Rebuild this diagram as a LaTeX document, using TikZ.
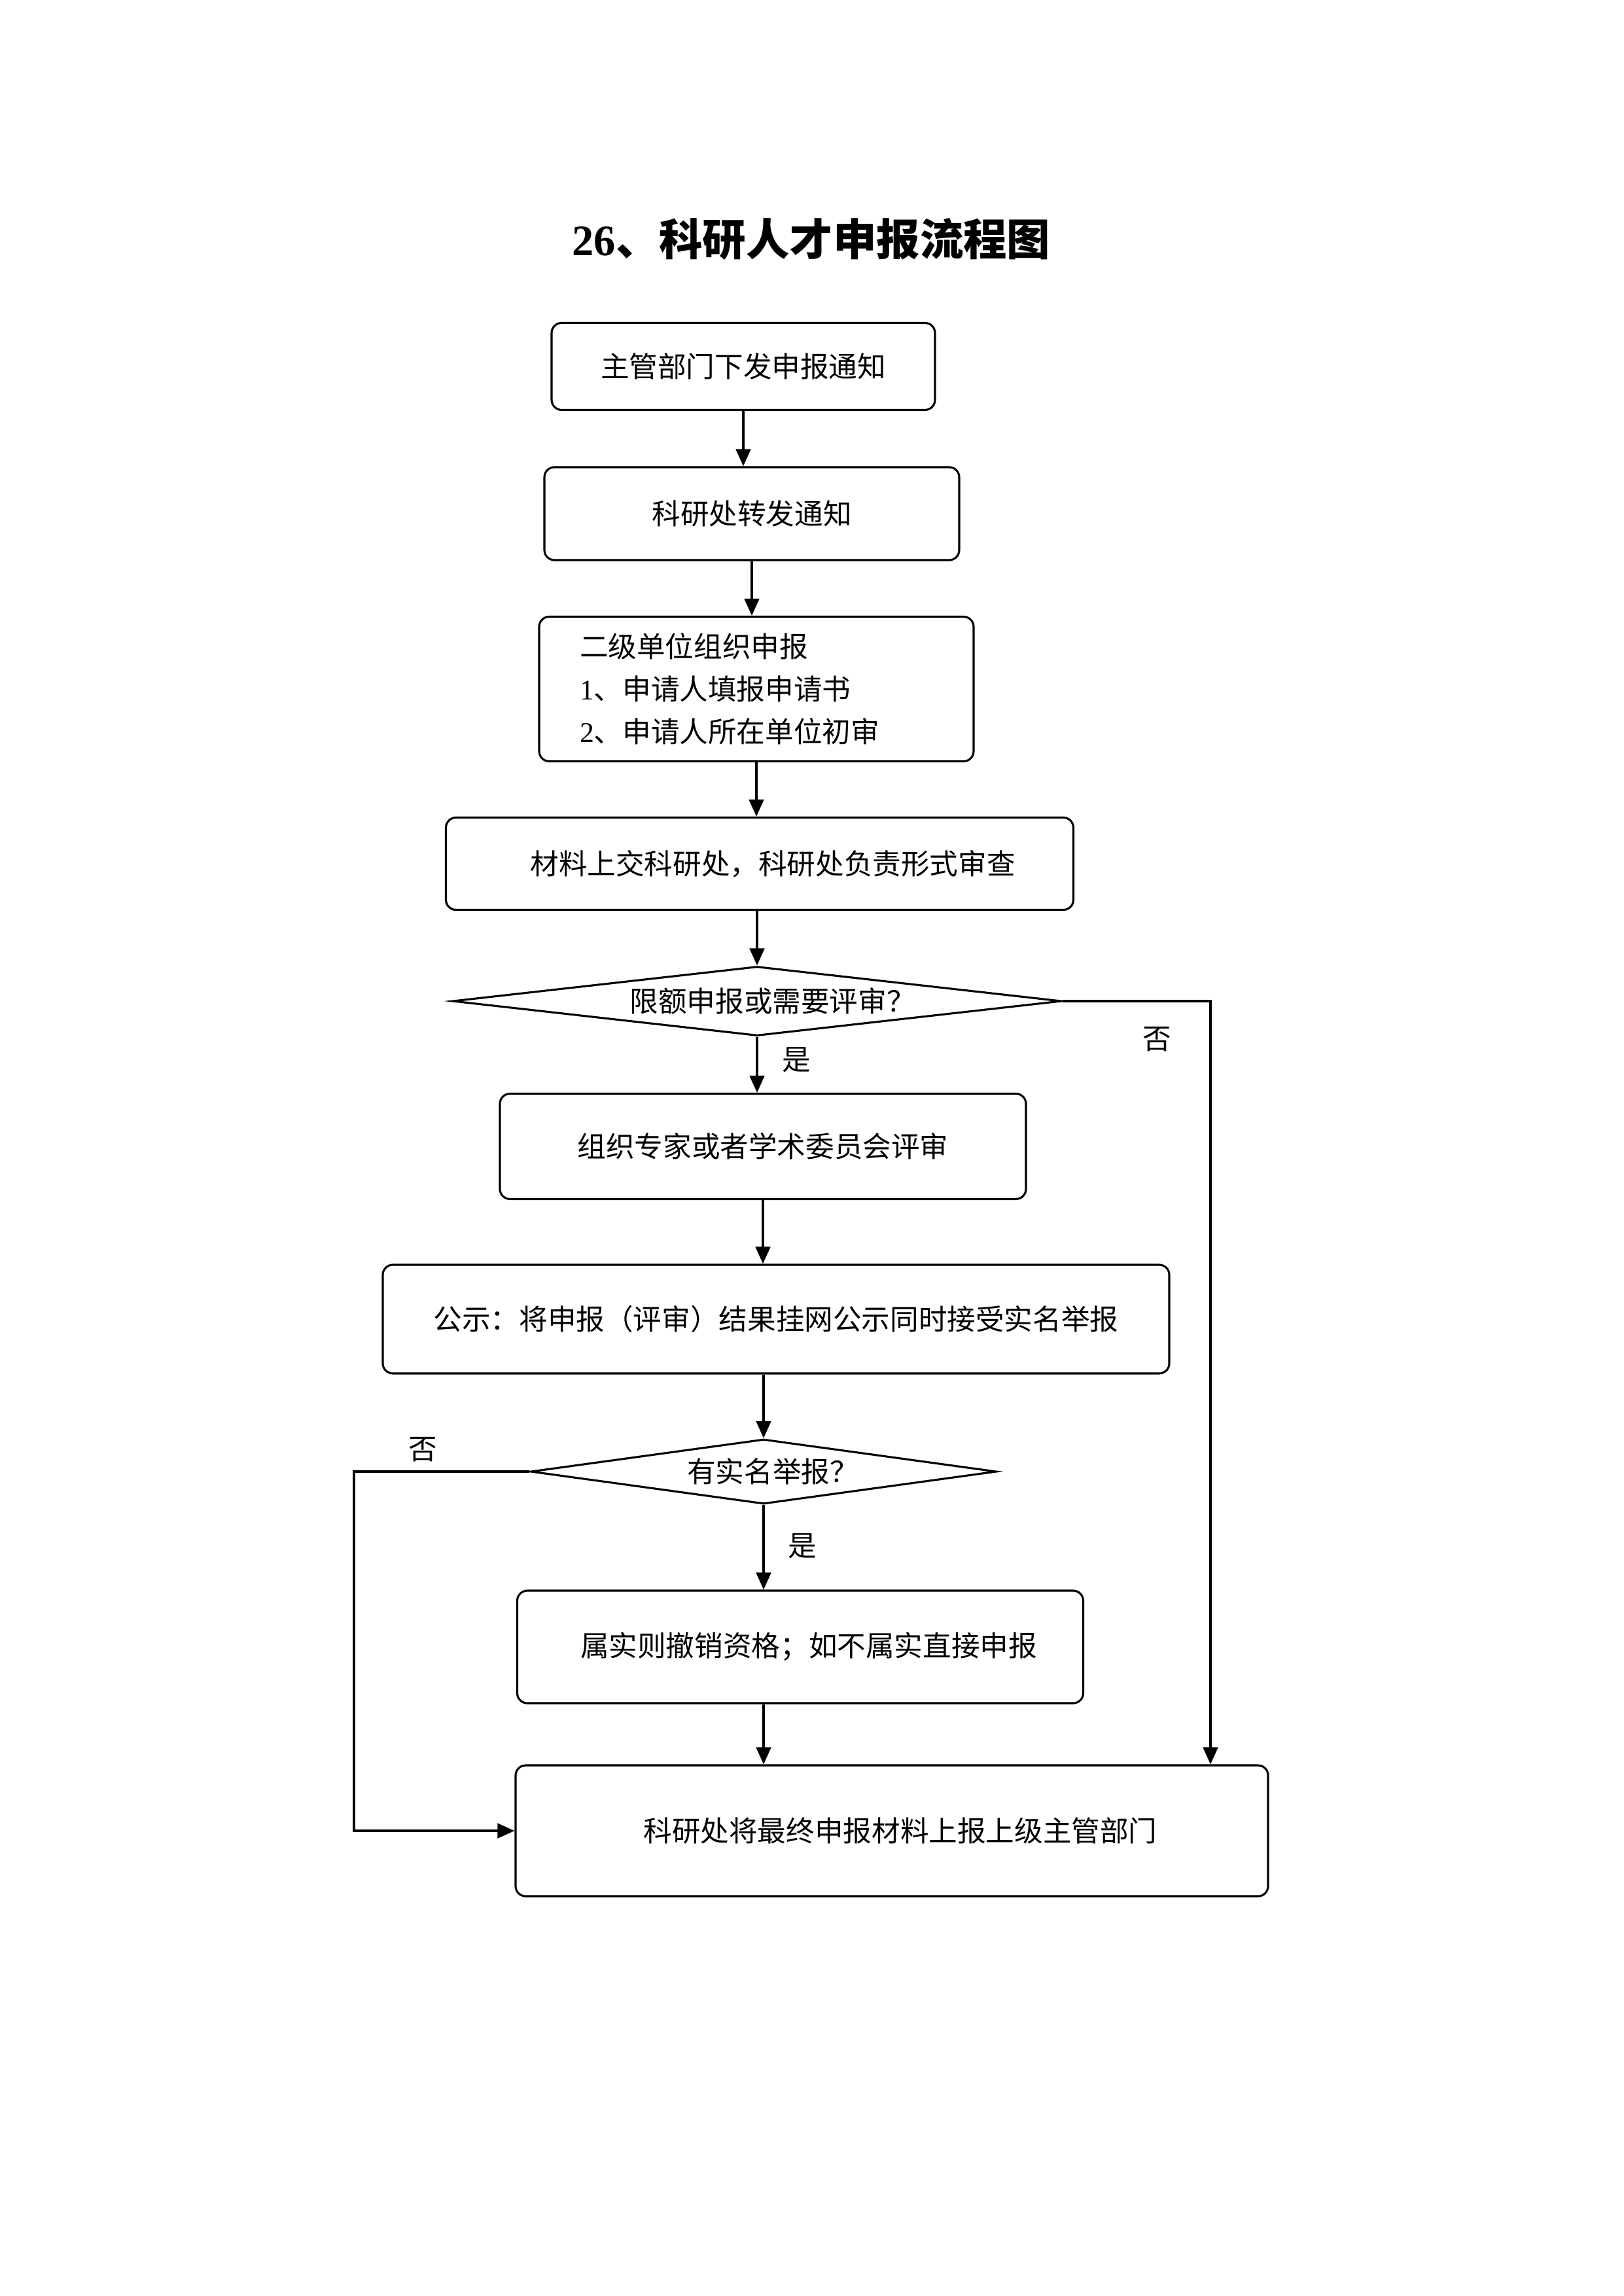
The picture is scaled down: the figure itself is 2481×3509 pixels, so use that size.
\documentclass[tikz,border=0pt]{standalone}
\usepackage{fontspec}
\setmainfont{Noto Sans CJK SC}
\newfontfamily\latinfont{Liberation Serif}
\usepackage{tikz}
\usetikzlibrary{positioning, shapes.geometric, arrows.meta, calc}
\newdimen\pxunit
\pxunit=0.08464mm
\tikzset{
  procbox/.style={draw, line width=0.75pt, rounded corners=1.3mm, inner sep=0pt, font=\fontsize{10.5}{15.6}\selectfont},
  decbox/.style={draw, diamond, line width=0.75pt, inner sep=0pt, aspect=8, font=\fontsize{10.5}{15.6}\selectfont},
  flowarrow/.style={line width=0.85pt, -{Triangle[length=2.2mm,width=1.9mm]}},
  branchlabel/.style={inner sep=0pt, font=\fontsize{10.5}{12}\selectfont}
}

\begin{document}
\begin{tikzpicture}[x=0.08464mm, y=-0.08464mm]
\useasboundingbox (0,0) rectangle (2481,3509);
\node[font=\fontsize{16}{19}\selectfont\bfseries] (title) at (1240,365) {{\latinfont 26}、科研人才申报流程图};

\node[procbox, minimum width=586*\pxunit, minimum height=133*\pxunit] (notice) at (1136,560) {主管部门下发申报通知};
\node[procbox, minimum width=634*\pxunit, minimum height=142*\pxunit] (forward) at (1149,785) {科研处转发通知};
\node[procbox, minimum width=664*\pxunit, minimum height=221*\pxunit, text width=45.7mm, align=left] (unit) at (1156,1053)
  {二级单位组织申报\\{\latinfont 1}、申请人填报申请书\\{\latinfont 2}、申请人所在单位初审};
\node[procbox, minimum width=959*\pxunit, minimum height=141*\pxunit] (submit) at (1161,1320) {\hspace*{3.4mm}材料上交科研处，科研处负责形式审查};
\node[decbox, minimum width=931*\pxunit, minimum height=106*\pxunit] (quota) at (1157,1530) {\hspace*{4mm}限额申报或需要评审？};
\node[procbox, minimum width=804*\pxunit, minimum height=161*\pxunit] (review) at (1166,1752) {组织专家或者学术委员会评审};
\node[procbox, minimum width=1202*\pxunit, minimum height=166*\pxunit] (publish) at (1186,2016) {公示：将申报（评审）结果挂网公示同时接受实名举报};
\node[decbox, minimum width=712*\pxunit, minimum height=99*\pxunit] (report) at (1167,2249) {\hspace*{2.4mm}有实名举报？};
\node[procbox, minimum width=865*\pxunit, minimum height=172*\pxunit] (verify) at (1223,2517) {\hspace*{2.2mm}属实则撤销资格；如不属实直接申报};
\node[procbox, minimum width=1150*\pxunit, minimum height=200*\pxunit] (final) at (1363,2798) {\hspace*{2.2mm}科研处将最终申报材料上报上级主管部门};

\node[branchlabel] (yes1) at (1217,1620) {是};
\node[branchlabel] (no1) at (1768,1588) {否};
\node[branchlabel] (no2) at (646,2215) {否};
\node[branchlabel] (yes2) at (1226,2363) {是};

\coordinate (rightturn) at (1850,1530);
\coordinate (leftturn) at (541,2249);

\draw[flowarrow] (notice.south) -- (notice.south |- forward.north);
\draw[flowarrow] (forward.south) -- (forward.south |- unit.north);
\draw[flowarrow] (unit.south) -- (unit.south |- submit.north);
\draw[flowarrow] (quota.north |- submit.south) -- (quota.north);
\draw[flowarrow] (quota.south) -- (quota.south |- review.north);
\draw[flowarrow] (review.south) -- (review.south |- publish.north);
\draw[flowarrow] (report.north |- publish.south) -- (report.north);
\draw[flowarrow] (report.south) -- (report.south |- verify.north);
\draw[flowarrow] (report.south |- verify.south) -- (report.south |- final.north);
\draw[flowarrow] (quota.east) -- (rightturn) -- (rightturn |- final.north);
\draw[flowarrow] (report.west) -- (leftturn) -- (leftturn |- final.west) -- (final.west);
\end{tikzpicture}
\end{document}
